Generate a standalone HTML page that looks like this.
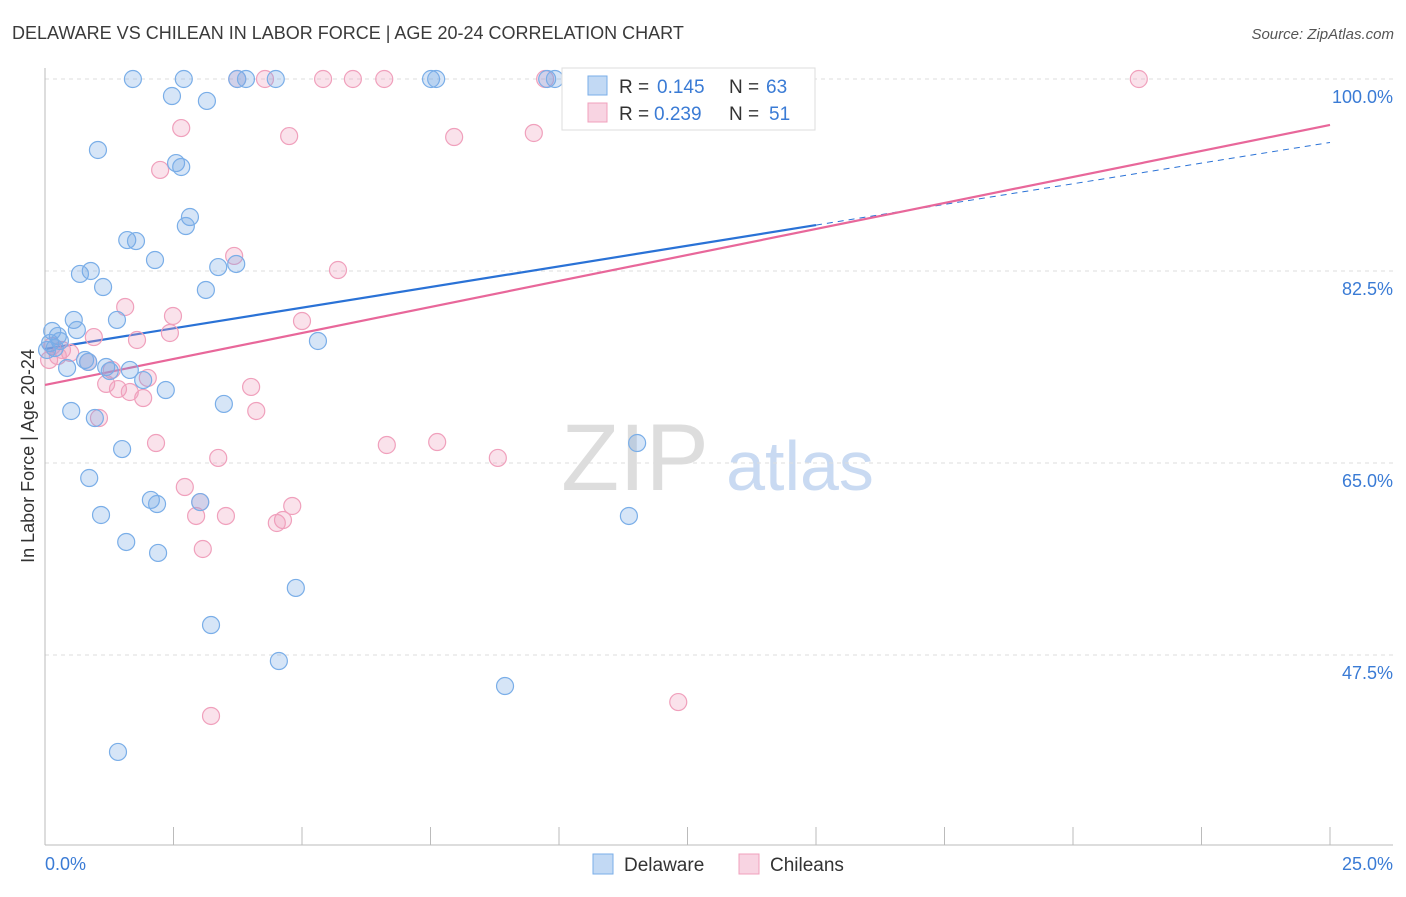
<!DOCTYPE html>
<html><head><meta charset="utf-8"><style>
body{margin:0;background:#fff;font-family:"Liberation Sans",sans-serif;}
svg text{font-family:"Liberation Sans",sans-serif;}
</style></head><body>
<svg id="chart" width="1406" height="892">
<text x="12" y="39" font-size="18" fill="#3a3a3a">DELAWARE VS CHILEAN IN LABOR FORCE | AGE 20-24 CORRELATION CHART</text>
<text x="1394" y="39" font-size="15" fill="#555" text-anchor="end" font-style="italic">Source: ZipAtlas.com</text>
<text x="34" y="456" font-size="18" fill="#333" text-anchor="middle" transform="rotate(-90 34 456)">In Labor Force | Age 20-24</text>
<g><text x="635" y="490" font-size="95" fill="#ddd" font-family="Liberation Serif" text-anchor="middle">ZIP</text><text x="800" y="490" font-size="70" fill="#c9daf2" text-anchor="middle">atlas</text></g>
<g id="grid"></g><g id="axes"></g><g id="trend"></g><g id="pts"></g>
<g>
<rect x="562" y="68" width="253" height="62" fill="#fff" stroke="#ddd"/>
<rect x="588" y="76" width="19" height="19" fill="rgba(120,170,230,0.45)" stroke="#7aaee8"/>
<text x="619" y="93" font-size="19" fill="#333">R =</text>
<text x="657" y="93" font-size="19" fill="#3a7bd5">0.145</text>
<text x="729" y="93" font-size="19" fill="#333">N =</text>
<text x="766" y="93" font-size="19" fill="#3a7bd5">63</text>
<rect x="588" y="103" width="19" height="19" fill="rgba(240,160,190,0.45)" stroke="#f0a0bc"/>
<text x="619" y="120" font-size="19" fill="#333">R =</text>
<text x="654" y="120" font-size="19" fill="#3a7bd5">0.239</text>
<text x="729" y="120" font-size="19" fill="#333">N =</text>
<text x="769" y="120" font-size="19" fill="#3a7bd5">51</text>
</g>
<g>
<rect x="593" y="854" width="20" height="20" fill="rgba(120,170,230,0.45)" stroke="#7aaee8"/>
<text x="624" y="871" font-size="19" fill="#333">Delaware</text>
<rect x="739" y="854" width="20" height="20" fill="rgba(240,160,190,0.45)" stroke="#f0a0bc"/>
<text x="770" y="871" font-size="19" fill="#333">Chileans</text>
</g>
</svg>
<script>
const yTicks=[100,82.5,65,47.5];
const yTickLabels=["100.0%","82.5%","65.0%","47.5%"];
const xTickLabels=["0.0%","25.0%"];
const delX=[1.71,2.70,3.74,3.91,4.49,7.51,7.61,9.77,9.92,2.47,3.15,1.03,2.55,2.65,2.82,2.74,1.60,1.77,2.14,0.89,0.68,3.37,3.72,1.13,3.13,1.40,0.56,0.62,0.14,0.25,0.10,0.29,5.31,0.19,0.04,0.78,0.84,0.43,1.19,1.26,1.65,1.91,2.35,3.48,0.51,0.97,1.50,11.52,0.86,2.06,2.18,3.02,1.09,11.36,1.58,2.20,4.88,3.23,4.55,8.95,1.42];
const delY=[100,100,100,100,100,100,100,100,100,98.45,98.0,93.53,92.34,91.98,87.42,86.60,85.32,85.23,83.50,82.50,82.23,82.86,83.14,81.04,80.77,78.04,78.04,77.12,77.03,76.58,75.94,76.12,76.12,75.48,75.30,74.39,74.21,73.66,73.75,73.38,73.48,72.56,71.65,70.38,69.74,69.10,66.27,66.82,63.63,61.63,61.26,61.44,60.26,60.17,57.80,56.80,53.61,50.23,46.95,44.67,38.66];
const chiX=[3.74,4.28,5.41,5.99,6.60,9.73,21.28,2.65,4.75,7.96,9.51,2.24,3.68,5.70,1.56,2.49,5.00,2.43,0.95,1.79,0.14,0.33,0.49,0.25,0.08,0.84,1.30,2.00,1.19,1.42,1.65,1.91,4.01,4.11,1.05,2.16,6.65,7.63,8.81,3.37,2.72,3.02,2.94,3.52,4.81,4.63,4.51,3.07,3.23,12.32];
const chiY=[100,100,100,100,100,100,100,95.53,94.80,94.71,95.08,91.71,83.87,82.59,79.22,78.40,77.94,76.85,76.48,76.21,75.66,75.30,75.03,74.75,74.39,74.21,73.48,72.75,72.21,71.74,71.47,70.92,71.93,69.74,69.10,66.82,66.64,66.91,65.46,65.46,62.81,61.44,60.17,60.17,61.08,59.80,59.53,57.16,41.94,43.21];
const delTrend=[75.39,0.753]; // intercept, slope
const chiTrend=[72.11,0.948];
const NS="http://www.w3.org/2000/svg";
const X=v=>45+v*51.4;
const Y=v=>79+(100-v)*10.971;
function mk(tag,attrs,parent){const e=document.createElementNS(NS,tag);for(const k in attrs)e.setAttribute(k,attrs[k]);document.getElementById(parent).appendChild(e);return e;}
yTicks.forEach((t,i)=>{
 const l=mk('line',{x1:45,x2:1393,y1:Y(t),y2:Y(t),stroke:'#ddd','stroke-dasharray':'4,4'},'grid');
 
 
 const tx=mk('text',{x:1393,y:Y(t)+24,'font-size':18,fill:'#3a7bd5','text-anchor':'end'},'grid');
 tx.textContent=yTickLabels[i];
 
 
});
mk('line',{x1:45,x2:45,y1:68,y2:845,stroke:'#bbb'},'axes');
mk('line',{x1:45,x2:1393,y1:845,y2:845,stroke:'#bbb'},'axes');
for(let i=0;i<=10;i++){const t=mk('line',{x1:X(i*2.5),x2:X(i*2.5),y1:827,y2:845,stroke:'#bbb'},'axes');}
let a=mk('text',{x:45,y:870,'font-size':18,fill:'#3a7bd5'},'axes');a.textContent=xTickLabels[0];


a=mk('text',{x:1393,y:870,'font-size':18,fill:'#3a7bd5','text-anchor':'end'},'axes');a.textContent=xTickLabels[1];


function dots(xs,ys,fill,stroke,name){xs.forEach((x,i)=>{const c=mk('circle',{cx:X(x),cy:Y(ys[i]),r:8.5,fill:fill,stroke:stroke,'stroke-width':1.2},'pts');

});}
dots(chiX,chiY,'rgba(240,160,190,0.3)','#f0a0bc','chilean-point');
dots(delX,delY,'rgba(120,170,230,0.3)','#7aaee8','delaware-point');
let t=mk('line',{x1:X(0),y1:Y(delTrend[0]),x2:X(15),y2:Y(delTrend[0]+15*delTrend[1]),stroke:'#2a72d6','stroke-width':2.2},'trend');


t=mk('line',{x1:X(15),y1:Y(delTrend[0]+15*delTrend[1]),x2:X(25),y2:Y(delTrend[0]+25*delTrend[1]),stroke:'#2a72d6','stroke-width':1,'stroke-dasharray':'6,5'},'trend');


t=mk('line',{x1:X(0),y1:Y(chiTrend[0]),x2:X(25),y2:Y(chiTrend[0]+25*chiTrend[1]),stroke:'#e8679a','stroke-width':2.2},'trend');


</script>
</body></html>
